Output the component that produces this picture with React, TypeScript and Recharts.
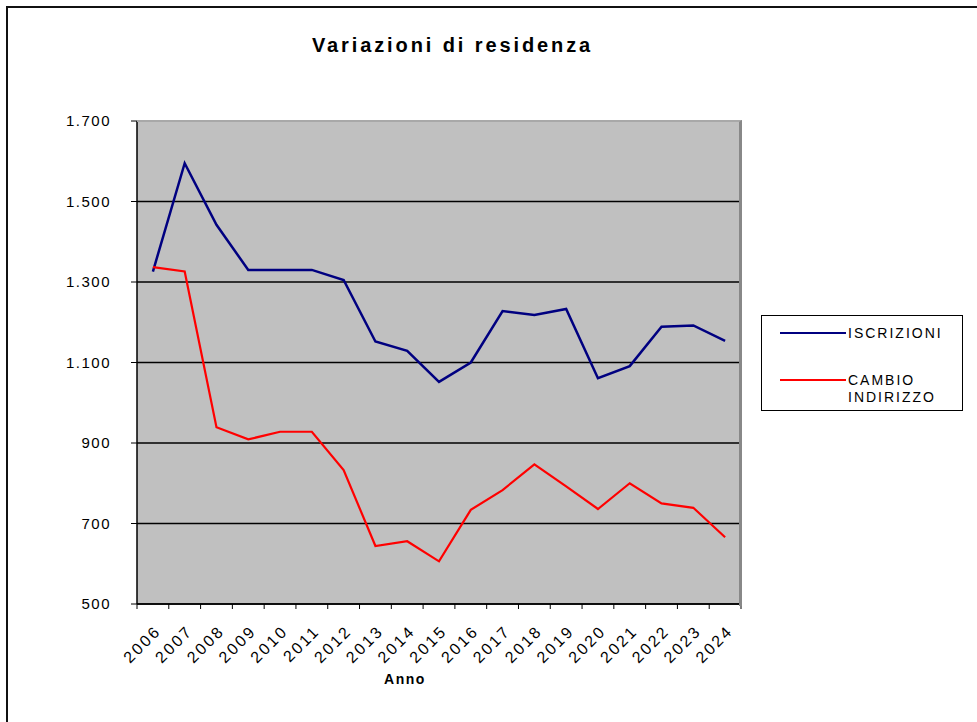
import React from 'react';
import { LineChart, Line, XAxis, YAxis, CartesianGrid, Legend } from 'recharts';

const years = ['2006','2007','2008','2009','2010','2011','2012','2013','2014','2015','2016','2017','2018','2019','2020','2021','2022','2023','2024'];
const iscrizioni = [1326,1595,1442,1330,1330,1330,1305,1152,1129,1052,1100,1228,1218,1233,1061,1091,1189,1192,1154];
const cambioIndirizzo = [1337,1326,939,909,928,928,833,644,656,606,734,783,847,792,736,800,750,739,666];
const yTicks = [500,700,900,1100,1300,1500,1700];

const data = years.map((y, i) => ({ anno: y, iscr: iscrizioni[i], cambio: cambioIndirizzo[i] }));

const fmt = (v: number) => v >= 1000 ? `${Math.floor(v / 1000)}.${String(v % 1000).padStart(3, '0')}` : String(v);

const FONT = 'Arial, "Liberation Sans", sans-serif';
const PLOT_W = 604;
const HALF_BAND = PLOT_W / years.length / 2;

const XTick = (props: any) => {
  const { x, y, payload, index } = props;
  const axisY = y - 7;
  const isLast = index === years.length - 1;
  return (
    <g>
      <line x1={x - HALF_BAND} x2={x - HALF_BAND} y1={axisY} y2={axisY + 5} stroke="#000" strokeWidth={1} />
      {isLast && <line x1={x + HALF_BAND} x2={x + HALF_BAND} y1={axisY} y2={axisY + 5} stroke="#000" strokeWidth={1} />}
      <g transform={`translate(${x + 9},${y + 21}) rotate(-45)`}>
        <text x={0} y={0} textAnchor="end" fontFamily={FONT} fontSize={16} letterSpacing={2.4} fill="#000">
          {payload.value}
        </text>
      </g>
    </g>
  );
};

const LegendBox = (props: any) => {
  const items = [
    { label: ['ISCRIZIONI'], color: '#000080' },
    { label: ['CAMBIO', 'INDIRIZZO'], color: '#ff0000' },
  ];
  return (
    <div style={{ width: 200, height: 94, border: '1px solid #000', background: '#fff', position: 'relative', fontFamily: FONT }}>
      {items.map((it, i) => (
        <div key={i} style={{ position: 'absolute', left: 18, top: i === 0 ? 9 : 56 }}>
          <div style={{ position: 'absolute', left: 0, top: 7, width: 66, height: 2, background: it.color }} />
          <div style={{ position: 'absolute', left: 68, top: 0, fontSize: 14, letterSpacing: 2, lineHeight: '17px', color: '#000', whiteSpace: 'nowrap' }}>
            {it.label.map((l, j) => <div key={j}>{l}</div>)}
          </div>
        </div>
      ))}
    </div>
  );
};

export default function App() {
  return (
    <div style={{ position: 'absolute', left: 0, top: 0, width: 977, height: 722, background: '#fff', overflow: 'hidden' }}>
      <div style={{ position: 'absolute', left: 6, top: 6, width: 975, height: 720, borderLeft: '2px solid #111', borderTop: '2px solid #111' }} />
      <div style={{ position: 'absolute', left: 0, top: 34, width: 905, textAlign: 'center', fontFamily: FONT, fontSize: 20, fontWeight: 'bold', letterSpacing: 2.9, color: '#000' }}>
        Variazioni di residenza
      </div>
      <LineChart width={977} height={722} data={data} margin={{ top: 121, right: 236, left: 77, bottom: 48 }}>
        <CartesianGrid vertical={false} stroke="#000" strokeWidth={1.5} fill="#c0c0c0" fillOpacity={1} />
        <XAxis dataKey="anno" scale="band" height={70} axisLine={{ stroke: '#000', strokeWidth: 1.5 }} tickLine={false} tickSize={5} tickMargin={2} tick={<XTick />} interval={0} />
        <YAxis domain={[500, 1700]} ticks={yTicks} tickFormatter={fmt} width={60} axisLine={{ stroke: '#000', strokeWidth: 1.5 }} tickLine={{ stroke: '#000' }} tickSize={6} tickMargin={20} tick={{ fill: '#000', fontSize: 15, fontFamily: FONT, letterSpacing: 1.5 }} allowDataOverflow />
        <Legend layout="horizontal" verticalAlign="middle" align="center" content={<LegendBox />} wrapperStyle={{ position: 'absolute', left: 761, top: 315, width: 202 }} />
        <Line type="linear" dataKey="iscr" name="ISCRIZIONI" stroke="#000080" strokeWidth={2.5} dot={false} isAnimationActive={false} />
        <Line type="linear" dataKey="cambio" name="CAMBIO INDIRIZZO" stroke="#ff0000" strokeWidth={2.2} dot={false} isAnimationActive={false} />
      </LineChart>
      <div style={{ position: 'absolute', left: 137, top: 120, width: 602, height: 484, borderTop: '2px solid #a8a8a8', borderRight: '3px solid #888', pointerEvents: 'none' }} />
      <div style={{ position: 'absolute', left: 355, top: 671, width: 100, textAlign: 'center', fontFamily: FONT, fontSize: 14, fontWeight: 'bold', letterSpacing: 1.5, color: '#000' }}>
        Anno
      </div>
    </div>
  );
}
